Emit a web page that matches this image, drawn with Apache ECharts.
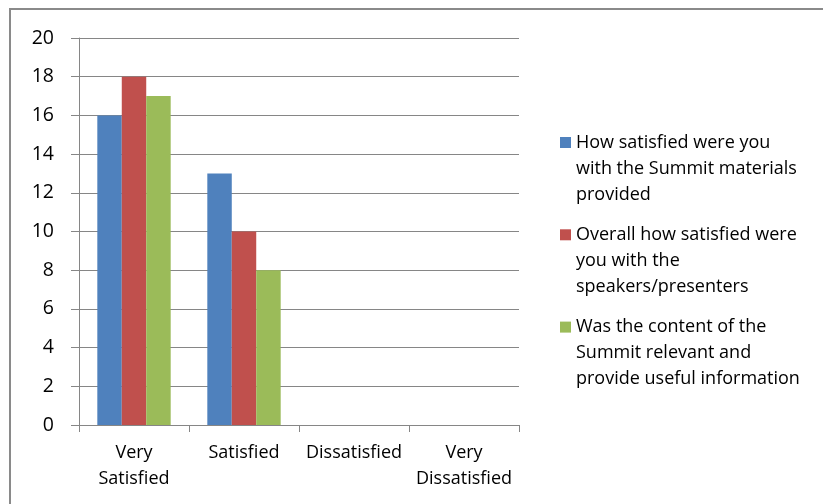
<!DOCTYPE html>
<html>
<head>
<meta charset="utf-8">
<script src="https://cdn.jsdelivr.net/npm/echarts@6/dist/echarts.min.js"></script>
<style>
html,body{margin:0;padding:0;background:#fff;}
#chart{width:823px;height:504px;}
</style>
</head>
<body>
<div id="chart"></div>
<script>
var categories = ['Very\nSatisfied', 'Satisfied', 'Dissatisfied', 'Very\nDissatisfied'];
var seriesNames = [
  'How satisfied were you with the Summit materials provided',
  'Overall how satisfied were you with the speakers/presenters',
  'Was the content of the Summit relevant and provide useful information'
];
var legendLines = [
  ['How satisfied were you', 'with the Summit materials', 'provided'],
  ['Overall how satisfied were', 'you with the', 'speakers/presenters'],
  ['Was the content of the', 'Summit relevant and', 'provide useful information']
];
var materials = [16, 13, 0, 0];
var speakers = [18, 10, 0, 0];
var content = [17, 8, 0, 0];
var yTicks = [0, 2, 4, 6, 8, 10, 12, 14, 16, 18, 20];

var colors = ['#4F81BD', '#C0504D', '#9BBB59'];
var FONT = '"Open Sans"';
var gridColor = '#868686';

var chart = echarts.init(document.getElementById('chart'), null, {renderer: 'canvas'});
var dataSets = [materials, speakers, content];
var series = dataSets.map(function (d, i) {
  return {
    name: seriesNames[i],
    type: 'bar',
    data: d,
    barGap: '0%',
    barCategoryGap: '33.3%',
    itemStyle: {color: colors[i]},
    emphasis: {disabled: true},
    animation: false
  };
});

chart.setOption({
  animation: false,
  color: colors,
  graphic: [{
    type: 'rect',
    silent: true,
    z: -10,
    shape: {x: 10, y: 9, width: 900, height: 600},
    style: {fill: 'none', stroke: '#8a8a8a', lineWidth: 2}
  }],
  grid: {left: 79, right: 304, top: 38, bottom: 79, containLabel: false},
  legend: {
    orient: 'vertical',
    left: 560,
    top: 77.5,
    padding: 0,
    itemGap: -37.7,
    itemWidth: 11,
    itemHeight: 11,
    icon: 'rect',
    selectedMode: false,
    data: seriesNames,
    formatter: function (name) {
      var idx = seriesNames.indexOf(name);
      return '\n\n' + legendLines[idx].join('\n');
    },
    textStyle: {fontFamily: FONT, fontSize: 18, color: '#000', lineHeight: 26}
  },
  xAxis: {
    type: 'category',
    data: categories,
    axisLine: {lineStyle: {color: gridColor, width: 1}},
    axisTick: {show: true, length: 7, lineStyle: {color: gridColor}},
    axisLabel: {fontFamily: FONT, fontSize: 18, color: '#000', margin: 15, lineHeight: 26, interval: 0}
  },
  yAxis: {
    type: 'value',
    min: yTicks[0],
    max: yTicks[yTicks.length - 1],
    interval: yTicks[1] - yTicks[0],
    axisLine: {show: true, lineStyle: {color: gridColor, width: 1}},
    axisTick: {show: true, length: 8, lineStyle: {color: gridColor}},
    splitLine: {show: true, lineStyle: {color: gridColor, width: 1}},
    axisLabel: {fontFamily: FONT, fontSize: 19.5, color: '#000', margin: 25}
  },
  series: series
});
</script>
</body>
</html>
